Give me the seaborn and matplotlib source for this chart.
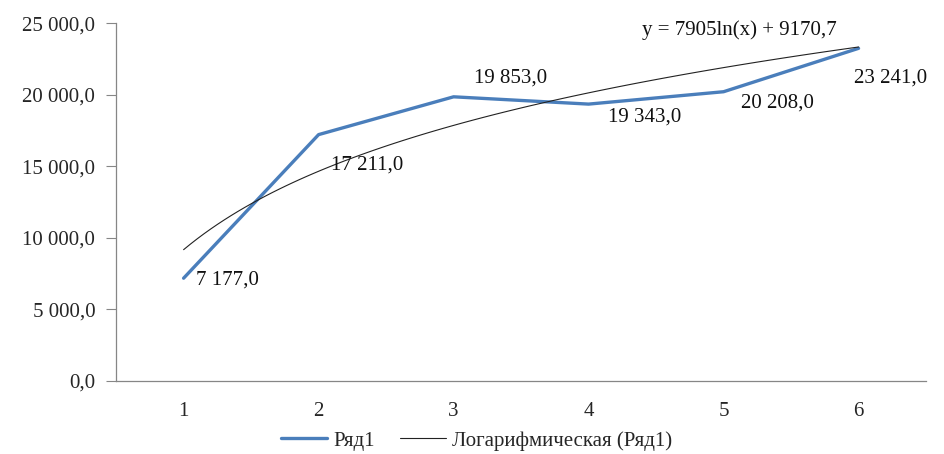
import matplotlib.pyplot as plt
import seaborn as sns
import pandas as pd
import numpy as np

# data
periods = [1, 2, 3, 4, 5, 6]
values = [7177.0, 17211.0, 19853.0, 19343.0, 20208.0, 23241.0]
series_name = "Ряд1"
trend_name = "Логарифмическая (Ряд1)"
equation = "y = 7905ln(x) + 9170,7"

# label offsets in pixels (dx, dy) relative to each point
label_offsets = [(12, -2), (12, -30), (20, 19), (19, -13), (17, -11), (-5, -30)]

df = pd.DataFrame({"x": periods, "y": values})

sns.set_theme(style="white")
plt.rcParams['font.family'] = ['Liberation Serif', 'DejaVu Serif']

fig = plt.figure(figsize=(9.44, 4.54), dpi=100)
ax = fig.add_axes([0.123, 0.161, 0.858, 0.788])

blue = "#4A7EBB"
sns.lineplot(data=df, x="x", y="y", ax=ax, color=blue, linewidth=2.4, label=series_name)
sns.regplot(data=df, x="x", y="y", ax=ax, logx=True, scatter=False, ci=None,
            truncate=True, line_kws={"color": "#222222", "linewidth": 0.8},
            label=trend_name)


def fmt(v):
    s = f"{v:,.1f}".replace(",", " ").replace(".", ",")
    return s


fs = 15
for (x, y), (dx, dy) in zip(zip(periods, values), label_offsets):
    ax.annotate(fmt(y), (x, y), xytext=(dx, dy), textcoords="offset pixels",
                fontsize=fs, ha="left", va="center", color="#111111")

ax.text(5.12, 24500, equation, fontsize=fs, ha="center", va="center", color="#111111")

ax.set_xlim(0.5, 6.5)
ax.set_ylim(0, 25000)
ax.set_yticks(np.arange(0, 25001, 5000))
ax.set_yticklabels([fmt(v) for v in np.arange(0, 25001, 5000)], fontsize=fs)
ax.set_xticks(periods)
ax.set_xticklabels([str(p) for p in periods], fontsize=fs)
ax.set_xticks(np.arange(0.5, 6.6, 1), minor=True)
ax.tick_params(axis="x", which="major", length=0, pad=15)
ax.tick_params(axis="x", which="minor", length=7, color="#868686", width=0.8, direction="out")
ax.tick_params(axis="y", length=7, color="#868686", width=0.8, direction="out", left=True, pad=8)
ax.set_xlabel("")
ax.set_ylabel("")

for side in ["top", "right"]:
    ax.spines[side].set_visible(False)
for side in ["left", "bottom"]:
    ax.spines[side].set_color("#868686")
    ax.spines[side].set_linewidth(0.9)

ax.legend(loc="center", bbox_to_anchor=(0.505, 0.029), bbox_transform=fig.transFigure,
          ncol=2, frameon=False, fontsize=fs, handlelength=2.2, columnspacing=1.2,
          handletextpad=0.3, borderpad=0.1)

fig.savefig("out.png", dpi=100)
